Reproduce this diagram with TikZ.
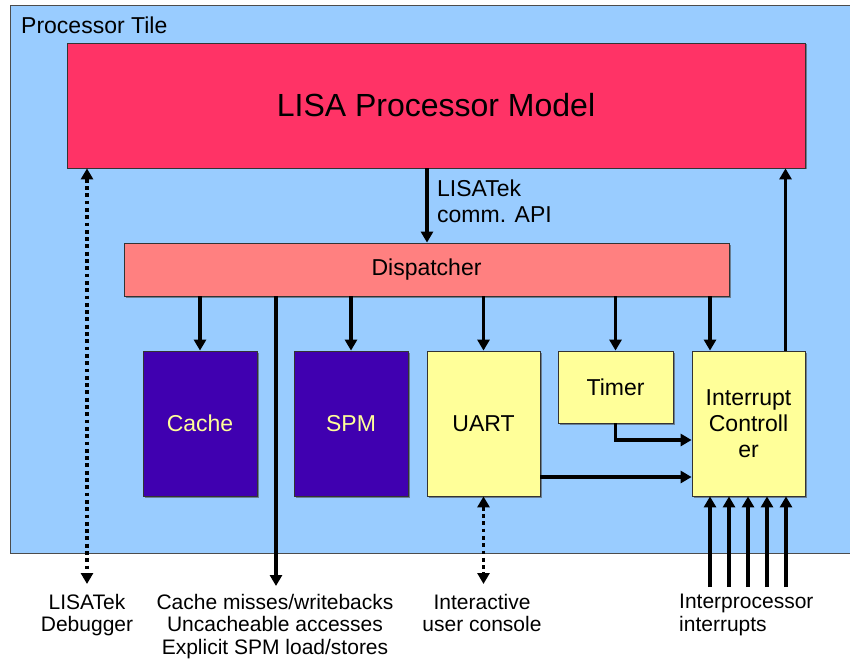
\documentclass[tikz,border=0pt]{standalone}
\usepackage{fontspec}
\setmainfont{Liberation Sans}
\usetikzlibrary{arrows.meta,shadows,calc}
\definecolor{tileblue}{HTML}{99CCFF}
\definecolor{lisared}{HTML}{FF3366}
\definecolor{disppink}{HTML}{FF8080}
\definecolor{memblue}{HTML}{4000B0}
\definecolor{periyel}{HTML}{FFFF99}

\tikzset{
  blk/.style={draw=black!80, line width=0.8pt, inner sep=0pt, align=center,
    drop shadow={shadow xshift=1.5pt, shadow yshift=-1.5pt, fill=black!70, opacity=.6},
    font=\fontsize{23}{26}\selectfont},
  arr/.style={line width=3.5pt, -{Triangle[width=12pt,length=11pt]}},
  dotarr/.style={line width=3.8pt, dash pattern=on 3.8pt off 3.5pt,
    {Triangle[width=12pt,length=11pt]}-{Triangle[width=12pt,length=11pt]}},
  lbl/.style={font=\fontsize{21}{22.5}\selectfont, align=center, inner sep=0pt},
}

\begin{document}
\begin{tikzpicture}[x=1pt,y=-1pt]
\useasboundingbox (0,0) rectangle (850,660);

% tile
\node[draw=black!70, line width=0.8pt, fill=tileblue, anchor=north west,
  minimum width=840pt, minimum height=548pt, inner sep=0pt] (tile) at (10,5) {};
\node[anchor=base west, inner sep=0pt, font=\fontsize{23}{26}\selectfont] (tiletxt) at (21,34) {Processor Tile};

% blocks
\node[blk, fill=lisared, minimum width=738pt, minimum height=125pt,
  font=\fontsize{32}{36}\selectfont] (lisa) at (436,105.5) {LISA Processor Model};
\node[blk, fill=disppink, minimum width=605pt, minimum height=53pt] (disp) at (426.5,269.5) {Dispatcher};

\node[blk, fill=memblue, text=periyel, minimum width=114pt, minimum height=145pt] (cache) at (200,423.5) {Cache};
\node[blk, fill=memblue, text=periyel, minimum width=114pt, minimum height=145pt] (spm) at (351,423.5) {SPM};
\node[blk, fill=periyel, minimum width=113pt, minimum height=145pt] (uart) at (483.5,423.5) {UART};
\node[blk, fill=periyel, minimum width=115pt, minimum height=72pt] (timer) at (615.5,387) {Timer};
\node[blk, fill=periyel, minimum width=113pt, minimum height=145pt] (intc) at (748.5,423.5) {Interrupt\\Controll\\er};

% lisa -> dispatcher
\coordinate (api) at (427,0);
\draw[arr] (lisa.south -| api) -- (disp.north -| api);
\node[anchor=west, align=left, inner sep=0pt, font=\fontsize{23}{26}\selectfont] (apitxt) at (437,201) {LISATek\\comm. API};

% dispatcher -> peripherals
\draw[arr] (disp.south -| cache.north) -- (cache.north);
\draw[arr] (disp.south -| spm.north) -- (spm.north);
\draw[arr] (disp.south -| uart.north) -- (uart.north);
\draw[arr] (disp.south -| timer.north) -- (timer.north);
\coordinate (icin) at (710,0);
\draw[arr] (disp.south -| icin) -- (intc.north -| icin);

% interrupt lines
\coordinate (tirq) at (0,440);
\coordinate (uirq) at (0,477);
\draw[arr] (timer.south) |- (intc.west |- tirq);
\draw[arr] (uart.east |- uirq) -- (intc.west |- uirq);
\coordinate (irqup) at (785.5,0);
\draw[arr] (intc.north -| irqup) -- (lisa.south -| irqup);

% outside connections
\coordinate (dbg) at (87,584);
\draw[dotarr] (lisa.south -| dbg) -- (dbg);
\coordinate (miss) at (276,586);
\draw[arr] (disp.south -| miss) -- (miss);
\coordinate (con) at (483.5,584);
\draw[dotarr] (uart.south) -- (con);
\foreach \x [count=\i] in {710,729,748,767,786}{
  \coordinate (irq\i) at (\x,587);
  \draw[arr] (irq\i) -- (intc.south -| irq\i);
}

% labels
\node[lbl, anchor=north] (dbgtxt) at (87,594) {LISATek\\Debugger};
\node[lbl, anchor=north] (misstxt) at (275,594) {Cache misses/writebacks\\Uncacheable accesses\\Explicit SPM load/stores};
\node[lbl, anchor=north] (contxt) at (482,594) {Interactive\\user console};
\node[lbl, anchor=north west, align=left] (irqtxt) at (679,594) {Interprocessor\\interrupts};
\end{tikzpicture}
\end{document}
